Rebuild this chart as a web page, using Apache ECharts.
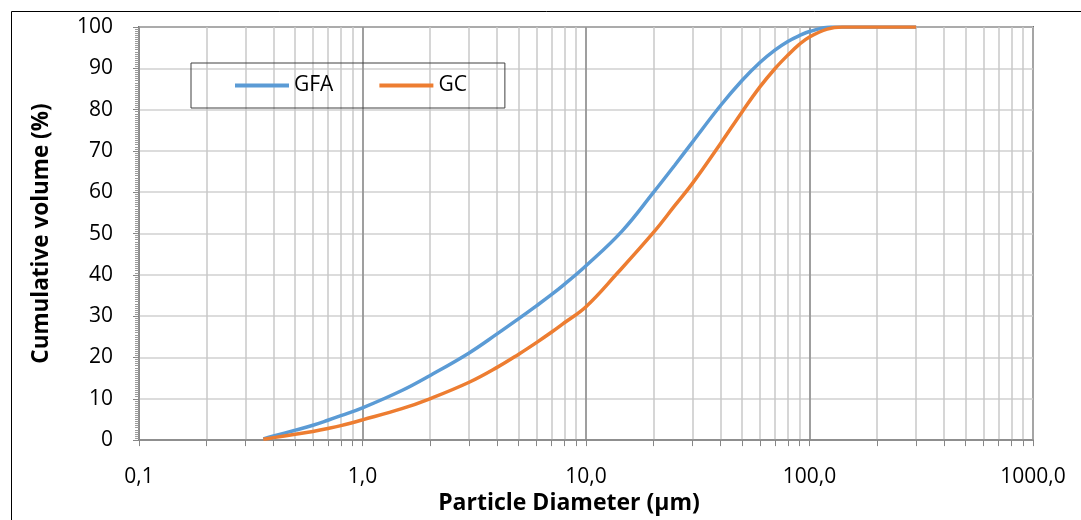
<!DOCTYPE html>
<html><head><meta charset="utf-8">
<script src="https://cdn.jsdelivr.net/npm/echarts@6/dist/echarts.min.js"></script>
<style>html,body{margin:0;padding:0;background:#fff}#c{width:1081px;height:520px}</style>
</head><body><div id="c"></div>
<script>
const gfaD = [0.36, 0.4, 0.5, 0.6, 0.7, 0.8, 1, 1.5, 2, 3, 4, 5, 6, 7, 8, 10, 14.5, 20, 25, 30, 40, 50, 60, 70, 80, 90, 100, 125, 200, 300];
const gfa  = [0.3, 1.0, 2.4, 3.6, 4.8, 5.9, 7.8, 12.0, 15.6, 21.1, 25.7, 29.4, 32.5, 35.2, 37.7, 42.2, 50.6, 59.9, 66.6, 72.2, 81.0, 87.1, 91.4, 94.4, 96.5, 97.9, 98.9, 100, 100, 100];
const gcD = [0.36, 0.4, 0.5, 0.6, 0.7, 0.8, 1, 1.5, 2, 3, 4, 5, 6, 7, 8, 10, 13.7, 20, 25, 30, 40, 50, 60, 70, 80, 90, 100, 120, 140, 200, 300];
const gc  = [0.2, 0.6, 1.4, 2.1, 2.8, 3.5, 4.9, 7.6, 10.0, 14.0, 17.6, 20.8, 23.6, 26.1, 28.4, 32.3, 40.2, 50.2, 56.8, 62.2, 71.8, 79.5, 85.5, 89.9, 93.2, 95.8, 97.6, 99.5, 100, 100, 100];
const xTickValues = [0.1, 1, 10, 100, 1000];
const xTickLabels = ['0,1', '1,0', '10,0', '100,0', '1000,0'];
const majorX = [1, 10, 100];
const allX = [];
[0.1, 1, 10, 100].forEach(b => { for (let k = 1; k <= 9; k++) allX.push(+(b * k).toPrecision(3)); });
allX.push(1000);
const font = '"Open Sans", sans-serif';
const labelFor = v => { const i = xTickValues.findIndex(t => Math.abs(Math.log10(t) - Math.log10(v)) < 1e-6); return i >= 0 ? xTickLabels[i] : ''; };
const chart = echarts.init(document.getElementById('c'), null, {renderer: 'canvas'});
chart.setOption({
  animation: false,
  backgroundColor: '#fff',
  graphic: [{type: 'rect', shape: {x: 11.5, y: 11.5, width: 1200, height: 700}, style: {fill: 'none', stroke: '#000', lineWidth: 1}, z: 100}],
  grid: {left: 139, right: 48, top: 27, bottom: 78, show: true, borderColor: '#000', borderWidth: 1.5},
  legend: {
    left: 191, top: 63, padding: [12, 38, 12, 44], borderColor: '#404040', borderWidth: 1,
    itemWidth: 54, itemHeight: 4, itemGap: 46, icon: 'rect',
    textStyle: {fontFamily: font, fontSize: 21, color: '#000'},
    data: ['GFA', 'GC']
  },
  xAxis: [{
    type: 'log', logBase: 10, min: 0.1, max: 1000,
    name: 'Particle Diameter (µm)', nameLocation: 'middle', nameGap: 46,
    nameTextStyle: {fontFamily: font, fontSize: 23, fontWeight: 'bold', color: '#000', padding: [0, 34, 0, 0]},
    axisLine: {lineStyle: {color: '#868686', width: 1.5}},
    axisTick: {show: true, length: 6, lineStyle: {color: '#868686'}, customValues: allX},
    axisLabel: {customValues: xTickValues, margin: 26, fontFamily: font, fontSize: 21, color: '#000', formatter: labelFor},
    splitLine: {show: true, lineStyle: {color: '#c8c8c8', width: 1.5}}
  }, {
    type: 'log', logBase: 10, min: 0.1, max: 1000, position: 'bottom',
    axisLine: {show: false}, axisLabel: {show: false},
    axisTick: {show: false, customValues: majorX},
    splitLine: {show: true, lineStyle: {color: '#8c8c8c', width: 1.5}}
  }],
  yAxis: {
    type: 'value', min: 0, max: 100, interval: 10,
    name: 'Cumulative volume (%)', nameLocation: 'middle', nameGap: 86,
    nameTextStyle: {fontFamily: font, fontSize: 22.5, fontWeight: 'bold', color: '#000'},
    axisLine: {show: true, lineStyle: {color: '#868686', width: 1.5}},
    axisTick: {show: true, inside: false, length: 6, lineStyle: {color: '#868686'}},
    minorTick: {show: true, splitNumber: 20, length: 4, lineStyle: {color: '#9a9a9a'}},
    axisLabel: {margin: 26, fontFamily: font, fontSize: 21, color: '#000'},
    splitLine: {show: true, lineStyle: {color: '#d0d0d0', width: 1.5}}
  },
  series: [
    {name: 'GFA', type: 'line', xAxisIndex: 0, data: gfaD.map((d, i) => [d, gfa[i]]), smooth: 0.4, showSymbol: false, lineStyle: {width: 3.5, color: '#5B9BD5'}, itemStyle: {color: '#5B9BD5'}, z: 3},
    {name: 'GC', type: 'line', xAxisIndex: 0, data: gcD.map((d, i) => [d, gc[i]]), smooth: 0.4, showSymbol: false, lineStyle: {width: 3.5, color: '#ED7D31'}, itemStyle: {color: '#ED7D31'}, z: 4}
  ]
});
</script></body></html>
